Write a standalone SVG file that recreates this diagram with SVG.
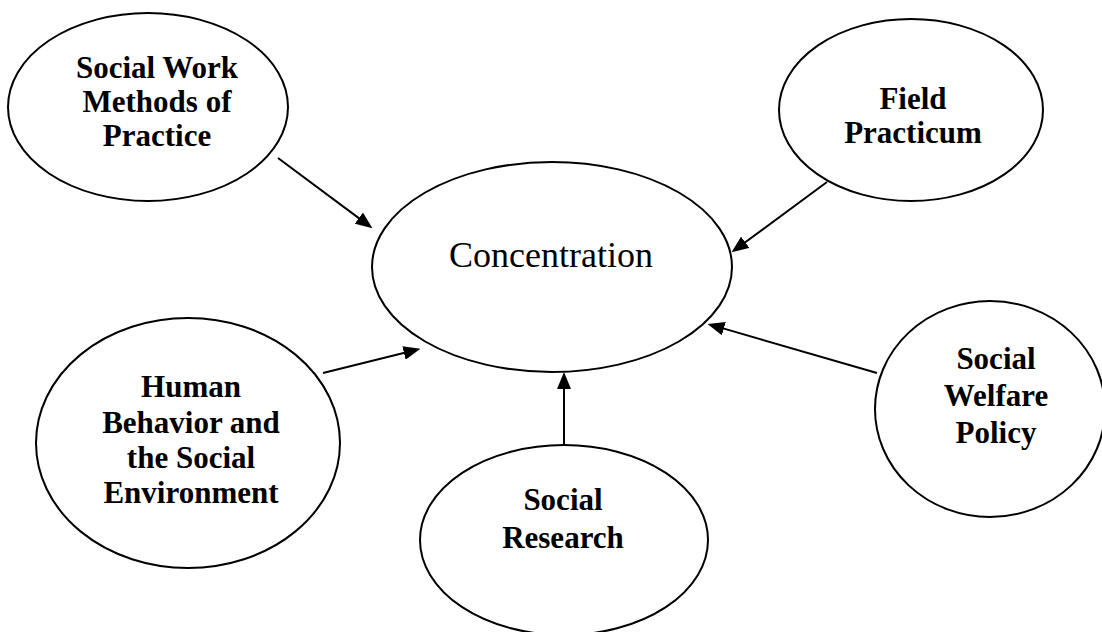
<svg xmlns="http://www.w3.org/2000/svg" width="1102" height="632" viewBox="0 0 1102 632">
<style>
.node ellipse{fill:#fff;stroke:#000;stroke-width:2}
.lbl{font-family:"Liberation Serif","Times New Roman",serif;font-weight:bold;font-size:31px;fill:#000;text-anchor:middle}
.main{font-family:"Liberation Serif","Times New Roman",serif;font-size:36px;fill:#000;text-anchor:middle}
.conn line{stroke:#000;stroke-width:2;marker-end:url(#ah)}
</style>
<defs>
<marker id="ah" markerUnits="userSpaceOnUse" markerWidth="17" markerHeight="14" refX="8" refY="7" orient="auto">
<path d="M0,0 L17,7 L0,14 z" fill="#000"/>
</marker>
</defs>
<rect width="1102" height="632" fill="#fff"/>
<g id="n-swmp" class="node">
<ellipse cx="148" cy="107" rx="140" ry="94"/>
<text class="lbl" x="157" y="78">Social Work</text>
<text class="lbl" x="157" y="112">Methods of</text>
<text class="lbl" x="157" y="146">Practice</text>
</g>
<g id="n-field" class="node">
<ellipse cx="911" cy="110" rx="132" ry="91"/>
<text class="lbl" x="913" y="109">Field</text>
<text class="lbl" x="913" y="143">Practicum</text>
</g>
<g id="n-conc" class="node">
<ellipse cx="552" cy="267" rx="180" ry="105"/>
<text class="main" x="551" y="267">Concentration</text>
</g>
<g id="n-hb" class="node">
<ellipse cx="188" cy="443" rx="152" ry="125"/>
<text class="lbl" x="191" y="397">Human</text>
<text class="lbl" x="191" y="433">Behavior and</text>
<text class="lbl" x="191" y="468">the Social</text>
<text class="lbl" x="191" y="503">Environment</text>
</g>
<g id="n-sr" class="node">
<ellipse cx="564" cy="540" rx="144" ry="95"/>
<text class="lbl" x="563" y="510">Social</text>
<text class="lbl" x="563" y="548">Research</text>
</g>
<g id="n-swp" class="node">
<ellipse cx="990" cy="409" rx="115" ry="108"/>
<text class="lbl" x="996" y="369">Social</text>
<text class="lbl" x="996" y="406">Welfare</text>
<text class="lbl" x="996" y="443">Policy</text>
</g>
<g id="connectors" class="conn">
<line x1="278" y1="158" x2="365.2" y2="222.9"/>
<line x1="827" y1="182" x2="738.8" y2="247.0"/>
<line x1="323" y1="373" x2="411.7" y2="351.0"/>
<line x1="877" y1="373" x2="716.2" y2="326.4"/>
<line x1="564" y1="444" x2="564" y2="381"/>
</g>
</svg>
